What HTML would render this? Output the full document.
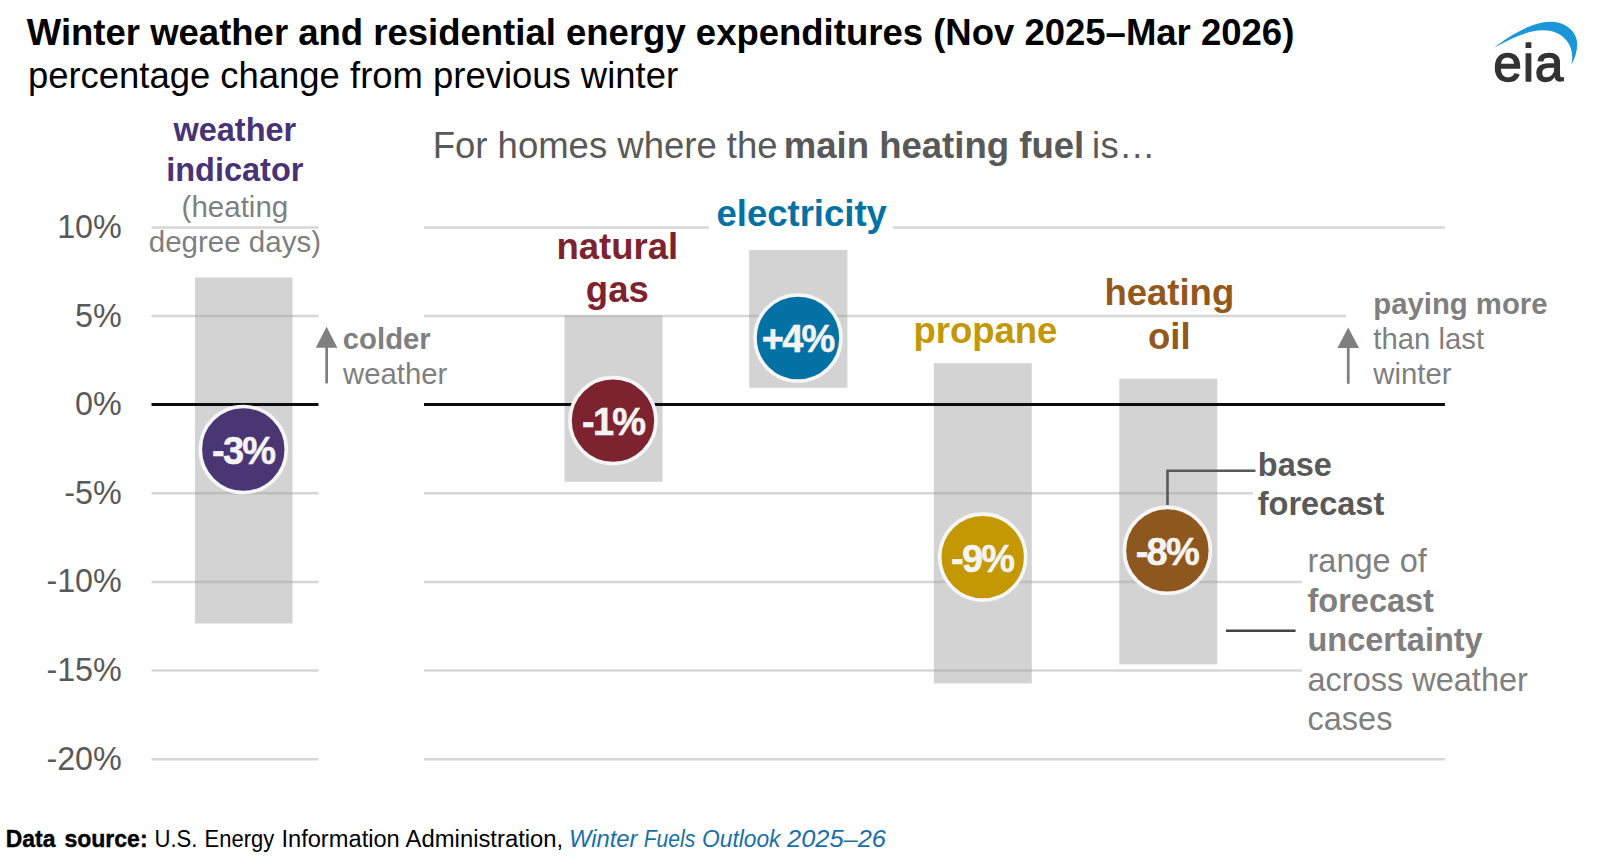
<!DOCTYPE html>
<html lang="en">
<head>
<meta charset="utf-8">
<title>Winter weather and residential energy expenditures</title>
<style>
html,body{margin:0;padding:0;background:#fff;}
body{width:1600px;height:863px;overflow:hidden;position:relative;font-family:"Liberation Sans",sans-serif;}
svg{position:absolute;left:0;top:0;display:block;}
svg text{font-family:"Liberation Sans",sans-serif;}
.b{font-weight:bold;}
.ax{font-size:32.3px;fill:#595959;text-anchor:end;}
.g{stroke:#a0a0a0;stroke-opacity:0.43;stroke-width:2.5;}
.bar{fill:#d3d3d3;}
.fuel{font-size:36.5px;font-weight:bold;text-anchor:middle;}
.pct{font-size:38px;font-weight:bold;fill:#f4f4f4;text-anchor:middle;letter-spacing:-1.8px;stroke:#f4f4f4;stroke-width:0.5px;}
.note{font-size:29.3px;fill:#7f7f7f;}
.leg{font-size:32.5px;}
</style>
</head>
<body>
<svg width="1600" height="863" viewBox="0 0 1600 863">
<rect width="1600" height="863" fill="#fff"/>

<!-- titles -->
<text x="26.8" y="45" font-size="36.5" class="b" fill="#000">Winter weather and residential energy expenditures (Nov 2025–Mar 2026)</text>
<text x="27.9" y="88" font-size="36.45" fill="#000">percentage change from previous winter</text>

<!-- eia logo -->
<g id="logo">
<path d="M1494.3 47.4 C1510 35.5 1532 22 1550 21.8 C1566 21.6 1577.2 32 1577.2 44 C1577.2 51 1575 58.5 1571.2 64.8 C1573.3 56.5 1572.3 47.5 1566.5 40.5 C1560.5 33.3 1552 30.2 1542.5 30.3 C1527 30.5 1510 39.3 1494.3 47.4 Z" fill="#1b96d8"/>
<text x="1493.2" y="81" font-size="51.5" fill="#333" stroke="#333" stroke-width="1.3" stroke-linejoin="round" letter-spacing="0.8">eia</text>
</g>

<!-- bars -->
<g id="bars">
<rect class="bar" x="195" y="277.5" width="97.5" height="346"/>
<rect class="bar" x="564.5" y="315.5" width="98" height="166.3"/>
<rect class="bar" x="749.2" y="250" width="98.2" height="137.8"/>
<rect class="bar" x="933.8" y="363.2" width="98" height="320.2"/>
<rect class="bar" x="1119.3" y="378.6" width="98" height="285.8"/>
</g>

<!-- gridlines -->
<g id="grid" class="g">
<path d="M151.5 227.4H318.5 M151.5 316H318.5 M151.5 493.3H318.5 M151.5 581.9H318.5 M151.5 670.6H318.5 M151.5 759.2H318.5"/>
<path d="M424 227.4H708.8 M893 227.4H1445 M424 316H1346 M424 493.3H1253 M424 581.9H1302 M424 670.6H1302 M424 759.2H1445"/>
</g>
<path d="M151.5 404.5H318.5 M424 404.5H1445" stroke="#0d0d0d" stroke-width="2.8"/>

<!-- y axis labels -->
<g class="ax">
<text x="121.8" y="238">10%</text>
<text x="121.8" y="327">5%</text>
<text x="121.8" y="415">0%</text>
<text x="121.8" y="504">-5%</text>
<text x="121.8" y="592">-10%</text>
<text x="121.8" y="681">-15%</text>
<text x="121.8" y="770">-20%</text>
</g>

<!-- weather label -->
<g text-anchor="middle">
<text x="234.8" y="141" font-size="32.5" class="b" fill="#473375">weather</text>
<text x="234.8" y="181" font-size="32.5" class="b" fill="#473375">indicator</text>
<text x="234.9" y="217" font-size="29.5" fill="#7f7f7f">(heating</text>
<text x="234.9" y="252" font-size="29.5" fill="#7f7f7f">degree days)</text>
</g>

<!-- heading -->
<text x="432.7" y="158" font-size="36.5" fill="#595959">For homes where the</text>
<text x="783.7" y="158" font-size="36.55" class="b" fill="#595959">main heating fuel</text>
<text x="1091.9" y="158" font-size="36.4" letter-spacing="0.4" fill="#595959">is…</text>

<!-- fuel labels -->
<text class="fuel" x="617.3" y="259" fill="#7d232f">natural</text>
<text class="fuel" x="617.3" y="302" fill="#7d232f">gas</text>
<text class="fuel" x="801.7" y="226" fill="#0471a4">electricity</text>
<text class="fuel" x="985.4" y="343" fill="#c39802">propane</text>
<text class="fuel" x="1169.3" y="305" fill="#93581c">heating</text>
<text class="fuel" x="1169.3" y="349" fill="#93581c">oil</text>

<!-- arrows + notes -->
<g fill="#7f7f7f" stroke="none">
<rect x="325.3" y="345" width="2.7" height="38.4"/>
<path d="M326.6 326.8 L337.4 347.8 L315.8 347.8 Z"/>
<rect x="1346.9" y="345" width="2.7" height="38.8"/>
<path d="M1348.2 327.4 L1359 348 L1337.4 348 Z"/>
</g>
<text class="note b" x="342.8" y="349">colder</text>
<text class="note" x="343" y="384">weather</text>
<text class="note b" x="1373.3" y="314">paying more</text>
<text class="note" x="1373.3" y="349">than last</text>
<text class="note" x="1373.3" y="384">winter</text>

<!-- leader lines -->
<path d="M1167.5 505V470.7H1255.5" fill="none" stroke="#595959" stroke-width="2.6"/>
<path d="M1226 630.8H1295.6" fill="none" stroke="#454545" stroke-width="2.5"/>

<!-- circles -->
<g stroke="#f6f6f6" stroke-width="3.6">
<circle cx="243.3" cy="449.5" r="43" fill="#4a3672"/>
<circle cx="613" cy="420.6" r="43" fill="#7d232f"/>
<circle cx="798" cy="338" r="43" fill="#0471a4"/>
<circle cx="982.7" cy="557.1" r="43" fill="#c39802"/>
<circle cx="1167.4" cy="550.4" r="43" fill="#8e571e"/>
</g>
<text class="pct" x="243.2" y="464">-3%</text>
<text class="pct" x="613.2" y="435">-1%</text>
<text class="pct" x="797.7" y="352">+4%</text>
<text class="pct" x="982.2" y="572">-9%</text>
<text class="pct" x="1166.8" y="565">-8%</text>

<!-- legend -->
<text class="leg b" x="1257.8" y="476" fill="#595959">base</text>
<text class="leg b" x="1257.8" y="515" fill="#595959">forecast</text>
<text class="leg" x="1307.5" y="572" fill="#7f7f7f">range of</text>
<text class="leg b" x="1307.5" y="612" fill="#7f7f7f">forecast</text>
<text class="leg b" x="1307.5" y="651" fill="#7f7f7f">uncertainty</text>
<text class="leg" x="1307.5" y="691" fill="#7f7f7f">across weather</text>
<text class="leg" x="1307.5" y="730" fill="#7f7f7f">cases</text>

<!-- footer -->
<text y="847" font-size="23.5" fill="#000"><tspan class="b" stroke="#000" stroke-width="0.4" x="5.7" textLength="49.7" lengthAdjust="spacingAndGlyphs">Data</tspan> <tspan class="b" stroke="#000" stroke-width="0.4" x="64.4" textLength="83.2" lengthAdjust="spacingAndGlyphs">source:</tspan> <tspan x="154.5" textLength="43" lengthAdjust="spacingAndGlyphs">U.S.</tspan> <tspan x="204.6" textLength="69.6" lengthAdjust="spacingAndGlyphs">Energy</tspan> <tspan x="281.4" textLength="118.4" lengthAdjust="spacingAndGlyphs">Information</tspan> <tspan x="405.6" textLength="157.6" lengthAdjust="spacingAndGlyphs">Administration,</tspan> <tspan font-style="italic" fill="#186fa7"><tspan x="569" textLength="68.5" lengthAdjust="spacingAndGlyphs">Winter</tspan> <tspan x="643.7" textLength="51.5" lengthAdjust="spacingAndGlyphs">Fuels</tspan> <tspan x="702" textLength="78.5" lengthAdjust="spacingAndGlyphs">Outlook</tspan> <tspan x="787" textLength="99" lengthAdjust="spacingAndGlyphs">2025–26</tspan></tspan></text>
</svg>
</body>
</html>
